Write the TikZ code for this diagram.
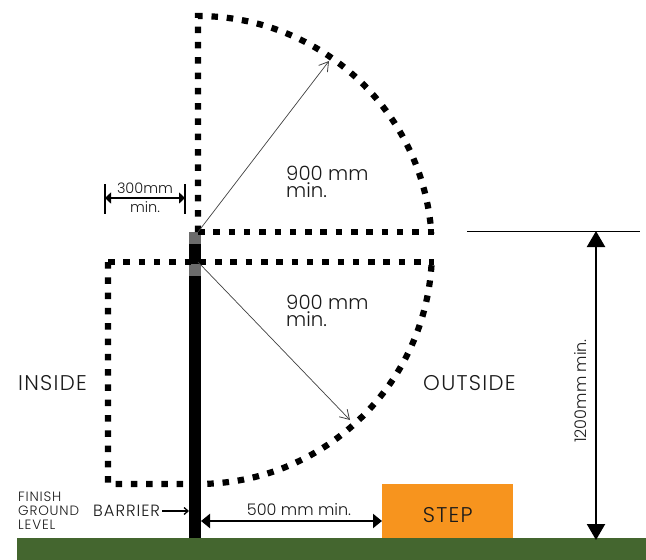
\documentclass[tikz,border=0pt]{standalone}
\usepackage{fontspec}
\setmainfont{Poppins Light}
\newfontfamily\capsfont[LetterSpace=6]{Poppins Light}
\usetikzlibrary{arrows.meta}
\definecolor{groundgreen}{HTML}{44662F}
\definecolor{steporange}{HTML}{F7941E}
\definecolor{txt}{HTML}{1A1A1A}
\tikzset{
  dotted line/.style={line width=6.2pt,dash pattern=on 6.5pt off 8.8pt,color=black},
  thin arrow/.style={draw=black!75,line width=0.7pt,-{Straight Barb[length=9pt,width=11pt,line width=0.8pt]}},
  dim/.style={draw=black,line width=2.2pt,{Triangle[length=9pt,width=14pt]}-{Triangle[length=9pt,width=14pt]}},
  bigdim/.style={draw=black,line width=2.2pt,{Triangle[length=16pt,width=18pt]}-{Triangle[length=16pt,width=18pt]}},
  lab/.style={inner sep=0pt,text=txt,font=\fontsize{19.7}{17}\selectfont},
  caplab/.style={inner sep=0pt,text=txt,font=\capsfont\fontsize{21.3}{21}\selectfont},
  smalllab/.style={inner sep=0pt,text=txt,font=\fontsize{16}{16}\selectfont},
}
\begin{document}
\begin{tikzpicture}[x=1pt,y=-1pt]
\useasboundingbox (0,0) rectangle (646,560);
% ground, barrier, step
\node[fill=groundgreen,minimum width=629pt,minimum height=22pt,inner sep=0pt,anchor=north west] (ground) at (17,538) {};
\node[fill=steporange,minimum width=131pt,minimum height=54pt,inner sep=0pt,anchor=north west,text=txt,font=\capsfont\fontsize{21.3}{21}\selectfont] (stepbox) at (382,484) {\raisebox{-11pt}[0pt][0pt]{STEP}};
\node[fill=black,minimum width=12pt,minimum height=306pt,inner sep=0pt,anchor=north west] (barrier) at (189,232) {};
\fill[black!58] (189,232) rectangle (201,244);
\fill[black!58] (189,264) rectangle (201,276);
% dotted zones
\coordinate (c) at (198,248);
\draw[dotted line] (198,232) -- (198,16) arc[start angle=-90,delta angle=86,radius=234];
\draw[dotted line] (198,232) -- (434,232);
\draw[dotted line] (108,262) -- (434,262);
\draw[dotted line] (108,262) -- (108,484) -- (198,484) arc[start angle=90,delta angle=-86.5,radius=234];
% radii
\coordinate (r0) at (198,232);
\coordinate (r1) at (329,61);
\coordinate (r2) at (198,262);
\coordinate (r3) at (350,420);
\draw[thin arrow] (r0) -- (r1);
\draw[thin arrow] (r2) -- (r3);
\node[lab,align=left,anchor=north west] (t900a) at (286,166) {900 mm\\min.};
\node[lab,align=left,anchor=north west] (t900b) at (286,295) {900 mm\\min.};
% 300mm dim
\coordinate (b1t) at (105,184); \coordinate (b1b) at (105,214);
\coordinate (b2t) at (185,184); \coordinate (b2b) at (185,214);
\draw[black,line width=1.6pt] (b1t) -- (b1b);
\draw[black,line width=1.6pt] (b2t) -- (b2b);
\coordinate (d1) at (105,198); \coordinate (d2) at (185,198);
\draw[black,line width=1.6pt,{Triangle[length=6pt,width=11pt]}-{Triangle[length=6pt,width=11pt]}] (d1) -- (d2);
\node[inner sep=0pt,text=txt,font=\fontsize{14.5}{14.5}\selectfont] (t300) at (145,188) {300mm};
\node[inner sep=0pt,text=txt,font=\fontsize{14.5}{14.5}\selectfont] (tmin) at (145,207) {min.};
% labels
\node[caplab,anchor=west] (inside) at (18,383) {INSIDE};
\node[caplab,anchor=west] (outside) at (423,383) {OUTSIDE};
\node[inner sep=0pt,text=txt,align=left,anchor=west,font=\capsfont\fontsize{13.5}{14}\selectfont] (finish) at (18,511) {FINISH\\GROUND\\LEVEL};
\node[inner sep=0pt,text=txt,anchor=west,font=\capsfont\fontsize{16.3}{16}\selectfont] (barlab) at (93,511) {BARRIER};
\draw[black,line width=1.4pt,-{Straight Barb[length=4pt,width=7pt,line width=1.3pt]}] (barlab.east) ++(2,0) -- (barrier.west |- barlab.east);
% 500 dim
\coordinate (e1) at (201,521); 
\draw[dim] (e1) -- (stepbox.west |- e1);
\node[smalllab] (t500) at (299,510) {500 mm min.};
% 1200 dim
\coordinate (top1) at (467,231); \coordinate (top2) at (640,231);
\draw[black,line width=0.8pt] (top1) -- (top2);
\coordinate (h1) at (596,231);
\coordinate (h2) at (596,540);
\draw[bigdim] (h1) -- (h2);
\node[smalllab,rotate=90] (t1200) at (581,391) {1200mm min.};
\end{tikzpicture}
\end{document}
